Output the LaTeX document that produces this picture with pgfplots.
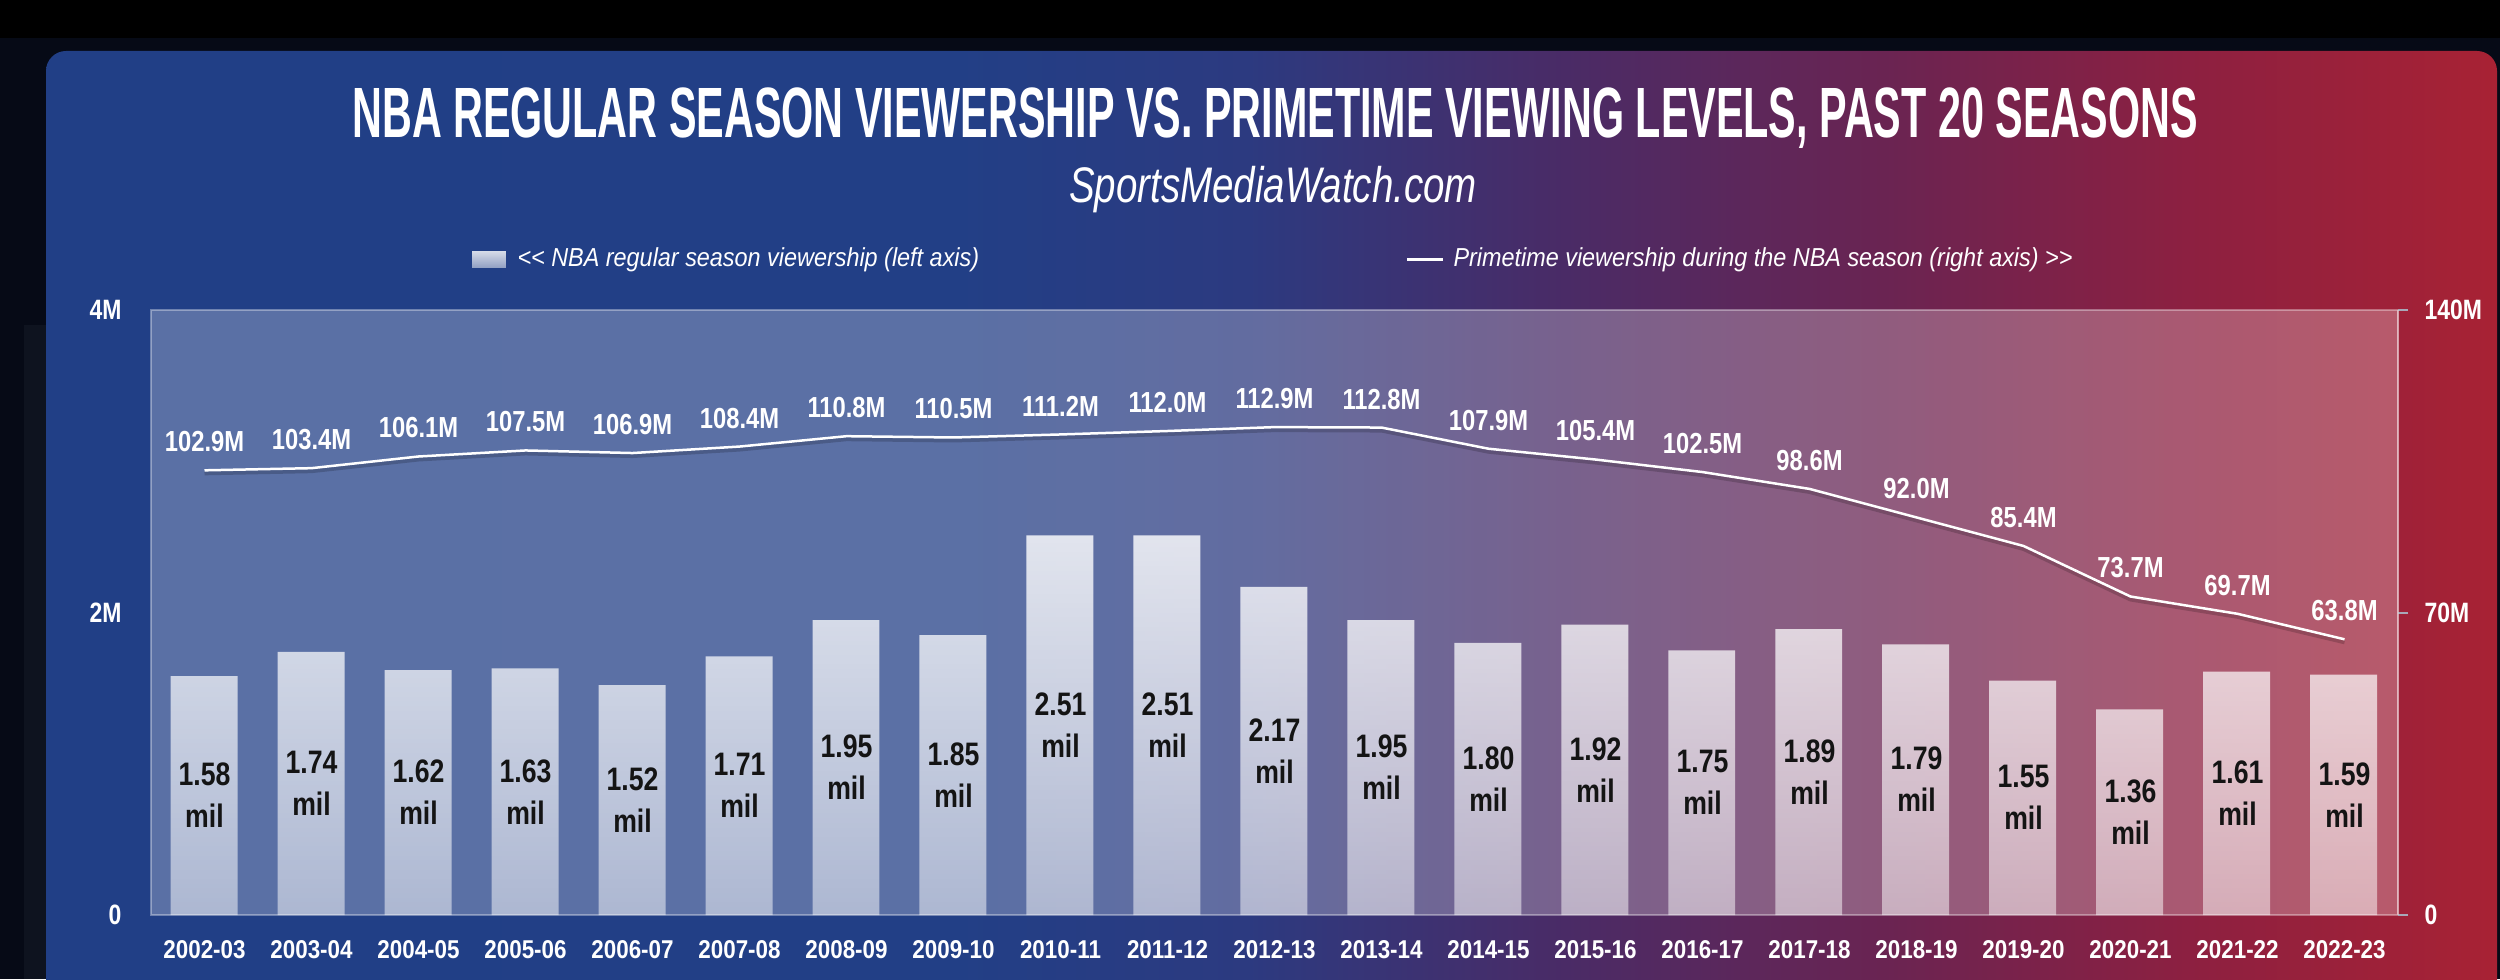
\documentclass[border=0pt]{standalone}
\usepackage{pgfplots}
\pgfplotsset{compat=1.18}
\usepackage{pgfplotstable}
\usepackage{fontspec}
\usetikzlibrary{fadings}
\setmainfont{Liberation Sans}
\newfontfamily\fA[FakeStretch=0.58]{Liberation Sans}
\newfontfamily\fB[FakeStretch=0.82]{Liberation Sans}
\newfontfamily\fC[FakeStretch=0.87]{Liberation Sans}
\newfontfamily\fI[FakeStretch=0.77]{Liberation Sans}
\newfontfamily\fL[FakeStretch=0.9]{Liberation Sans}

\definecolor{cA}{HTML}{213F86}
\definecolor{cA2}{HTML}{223F86}
\definecolor{cB}{HTML}{2C3A80}
\definecolor{cC}{HTML}{4A2B66}
\definecolor{cD}{HTML}{6A2452}
\definecolor{cE}{HTML}{8E2040}
\definecolor{cF}{HTML}{A82234}
\definecolor{cNavy}{HTML}{060A16}
\definecolor{cStrip}{HTML}{0E131F}
\definecolor{cText}{HTML}{141414}
\definecolor{cTick}{HTML}{A8A8B8}

\pgfdeclarehorizontalshading{cardshade}{100bp}{color(0bp)=(cA); color(25bp)=(cA); color(43.5bp)=(cA2); color(49.5bp)=(cB); color(56bp)=(cC); color(62.5bp)=(cD); color(69bp)=(cE); color(75bp)=(cF); color(100bp)=(cF)}
\tikzfading[name=barfade, top color=transparent!18, bottom color=transparent!50]

\pgfplotstableread{
x v p
0 1.58 102.9
1 1.74 103.4
2 1.62 106.1
3 1.63 107.5
4 1.52 106.9
5 1.71 108.4
6 1.95 110.8
7 1.85 110.5
8 2.51 111.2
9 2.51 112.0
10 2.17 112.9
11 1.95 112.8
12 1.80 107.9
13 1.92 105.4
14 1.75 102.5
15 1.89 98.6
16 1.79 92.0
17 1.55 85.4
18 1.36 73.7
19 1.61 69.7
20 1.59 63.8
}\datatable

\begin{document}
\begin{tikzpicture}
\useasboundingbox (0,0) rectangle (1000pt,391.6pt);
\fill[black] (0,0) rectangle (1000pt,391.6pt);
\fill[cNavy] (0,0) rectangle (1000pt,376.4pt);
\fill[cStrip] (9.6pt,0) rectangle (18.4pt,261.6pt);
\shade[shading=cardshade, rounded corners=8pt] (18.4pt,-20pt) rectangle (998.8pt,371.2pt);

\begin{axis}[
  at={(60.4pt,25.6pt)}, anchor=south west, scale only axis,
  width=898.8pt, height=242pt,
  xmin=-0.5, xmax=20.5, ymin=0, ymax=4,
  axis background/.style={fill=white, fill opacity=0.26},
  axis line style={draw=white, draw opacity=0.35, line width=0.6pt},
  xtick={0,...,20},
  xticklabels={2002-03,2003-04,2004-05,2005-06,2006-07,2007-08,2008-09,2009-10,2010-11,2011-12,2012-13,2013-14,2014-15,2015-16,2016-17,2017-18,2018-19,2019-20,2020-21,2021-22,2022-23},
  ytick={0,2,4}, yticklabels={0,2M,4M},
  tick style={draw=none},
  ytick pos=left, xtick pos=bottom,
  xticklabel style={font={\fC\bfseries\fontsize{10.3}{12}\selectfont}, text=white, inner sep=0pt, anchor=north},
  xticklabel shift=10pt,
  yticklabel style={font={\fB\bfseries\fontsize{11.2}{13}\selectfont}, text=white, inner sep=0pt, anchor=east},
  yticklabel shift=11.6pt,
]
\addplot[ybar, bar width=0.626, fill=white, draw=none, path fading=barfade] table[x=x, y=v] {\datatable};
\addplot[draw=none, point meta=explicit,
  nodes near coords={\pgfmathprintnumber[fixed,fixed zerofill,precision=2,assume math mode=true]{\pgfplotspointmeta}\\mil},
  every node near coord/.append style={anchor=center, align=center, inner sep=0pt, text=cText, font={\fB\bfseries\fontsize{13}{16.8}\selectfont}}]
  table[x=x, y expr=\thisrow{v}/2, meta=v] {\datatable};
\end{axis}

\begin{axis}[
  at={(60.4pt,25.6pt)}, anchor=south west, scale only axis,
  width=898.8pt, height=242pt,
  xmin=-0.5, xmax=20.5, ymin=0, ymax=140,
  axis x line=none, axis y line*=right,
  ytick={0,70,140}, yticklabels={0,70M,140M},
  y axis line style={draw=white, draw opacity=0.35, line width=0.6pt},
  ytick style={draw=cTick, line width=0.8pt},
  tick align=outside, major tick length=4pt,
  yticklabel style={font={\fB\bfseries\fontsize{11.2}{13}\selectfont}, text=white, inner sep=0pt, anchor=west},
  yticklabel shift=6.4pt,
  clip=false,
]
\addplot[black, opacity=0.18, line width=1.6pt, yshift=-1.2pt, forget plot] table[x=x, y=p] {\datatable};
\addplot[white, line width=1pt,
  nodes near coords={\pgfmathprintnumber[fixed,fixed zerofill,precision=1,assume math mode=true]{\pgfplotspointmeta}M},
  every node near coord/.append style={anchor=south, inner sep=0pt, yshift=6.8pt, text=white, font={\fB\bfseries\fontsize{11.6}{13}\selectfont}}]
  table[x=x, y=p] {\datatable};
\end{axis}

\node[anchor=base, inner sep=0pt, text=white, font={\fA\bfseries\fontsize{28.5}{30}\selectfont}] at (510pt,336.4pt) {NBA REGULAR SEASON VIEWERSHIP VS. PRIMETIME VIEWING LEVELS, PAST 20 SEASONS};
\node[anchor=base, inner sep=0pt, text=white, font={\fI\itshape\fontsize{20}{22}\selectfont}] at (509.2pt,310.4pt) {SportsMediaWatch.com};

\fill[white, path fading=barfade] (188.8pt,284.4pt) rectangle (202.4pt,291.2pt);
\node[anchor=west, inner sep=0pt, text=white, font={\fL\itshape\fontsize{10.4}{12}\selectfont}] at (206.8pt,287.8pt) {<\kern0pt< NBA regular season viewership (left axis)};
\draw[white, line width=1.2pt] (562.8pt,287.8pt) -- (577.2pt,287.8pt);
\node[anchor=west, inner sep=0pt, text=white, font={\fL\itshape\fontsize{10.4}{12}\selectfont}] at (581.2pt,287.8pt) {Primetime viewership during the NBA season (right axis) >\kern0pt>};
\end{tikzpicture}
\end{document}
